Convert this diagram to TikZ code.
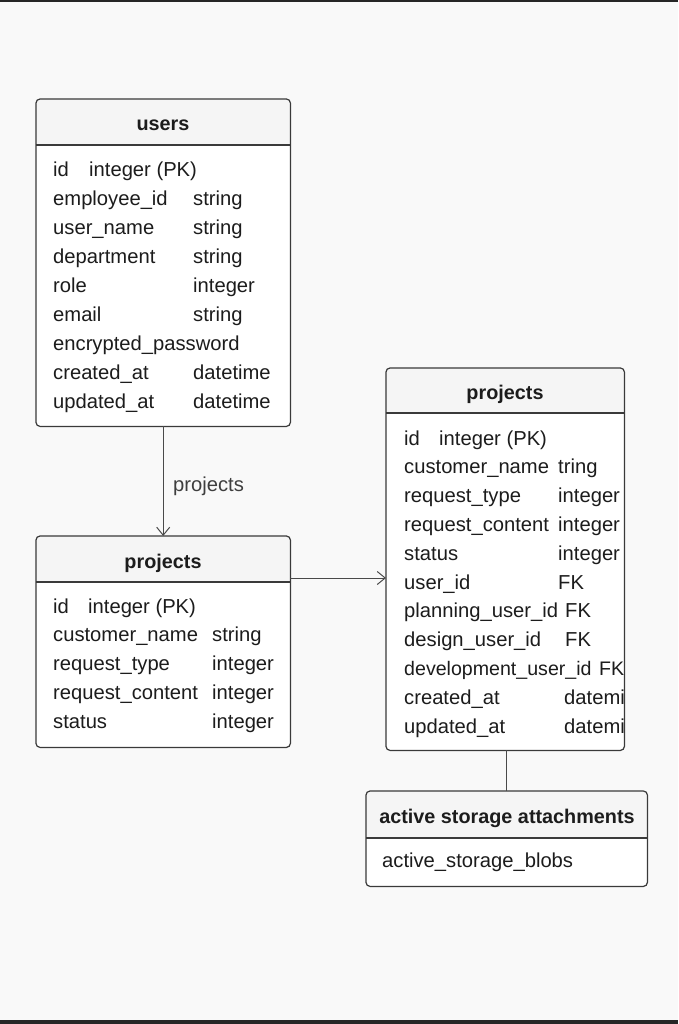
\documentclass[tikz,border=0pt]{standalone}
\usepackage{fontspec}
\setmainfont{Liberation Sans}
\usetikzlibrary{arrows.meta,calc}
\definecolor{bg}{HTML}{F9F9F9}
\definecolor{headc}{HTML}{F5F5F5}
\definecolor{linec}{HTML}{3A3A3A}
\definecolor{connc}{HTML}{4A4A4A}
\definecolor{textc}{HTML}{1C1C1C}
\definecolor{darkbar}{HTML}{262626}
\tikzset{
  tbl/.style={fill=white, rounded corners=4pt, inner sep=0pt, anchor=north west},
  border/.style={draw=linec, line width=1.2pt, rounded corners=4pt},
  divider/.style={draw=linec, line width=1.1pt},
  txt/.style={anchor=base west, inner sep=0pt, text=textc},
  ttl/.style={anchor=base, inner sep=0pt, text=textc, font=\fontsize{19.8}{23}\selectfont\bfseries},
  conn/.style={draw=connc, line width=1pt},
  arr/.style={conn, -{Straight Barb[length=8pt,width=13pt,line width=1pt]}}
}
\newcommand\mytable[6]{%
  \node[tbl, minimum width=#4pt, minimum height=#5pt] (#1) at (#2,#3) {};
  \begin{scope}
    \clip[rounded corners=4pt] (#1.north west) rectangle (#1.south east);
    \fill[headc] (#1.north west) rectangle ($(#1.north east)+(0,#6)$);
  \end{scope}
  \draw[divider] ($(#1.north west)+(0,#6)$) -- ($(#1.north east)+(0,#6)$);
  \draw[border] (#1.north west) rectangle (#1.south east);
}
\begin{document}
\begin{tikzpicture}[x=1pt,y=-1pt,font=\fontsize{20.2}{24}\selectfont]
\useasboundingbox (0,0) rectangle (678,1024);
\fill[bg] (0,0) rectangle (678,1024);
\fill[darkbar] (0,0) rectangle (678,1.6);
\fill[darkbar] (0,1020) rectangle (678,1024);

% users
\mytable{users}{36}{99}{254}{327}{46}
\node[ttl] (users-title) at (163,131) {users};
\foreach \n [count=\i] in {id,employee\_id,user\_name,department,role,email,encrypted\_password,created\_at,updated\_at}
  \node[txt] (users-n-\i) at (53,{177+(\i-1)*28.9}) {\n};
\node[txt] (users-t-1) at (89,177) {integer (PK)};
\foreach \t/\r in {string/2,string/3,string/4,integer/5,string/6,datetime/8,datetime/9}
  \node[txt] (users-t-\r) at (193,{177+(\r-1)*28.9}) {\t};

% left projects
\mytable{lproj}{36}{536}{254}{211}{46}
\node[ttl] (lproj-title) at (163,568) {projects};
\foreach \n [count=\i] in {id,customer\_name,request\_type,request\_content,status}
  \node[txt] (lproj-n-\i) at (53,{613+(\i-1)*28.8}) {\n};
\node[txt] (lproj-t-1) at (88,613) {integer (PK)};
\foreach \t/\r in {string/2,integer/3,integer/4,integer/5}
  \node[txt] (lproj-t-\r) at (212,{613+(\r-1)*28.8}) {\t};

% right projects
\mytable{rproj}{386}{368}{238}{382}{45}
\node[ttl] (rproj-title) at (505,399) {projects};
\foreach \n [count=\i] in {id,customer\_name,request\_type,request\_content,status,user\_id,planning\_user\_id,design\_user\_id}
  \node[txt] (rproj-n-\i) at (404,{445+(\i-1)*28.8}) {\n};
\node[txt, font=\fontsize{19.6}{24}\selectfont] (rproj-n-9) at (404,{445+8*28.8}) {development\_user\_id};
\foreach \n/\r in {created\_at/10,updated\_at/11}
  \node[txt] (rproj-n-\r) at (404,{445+(\r-1)*28.8}) {\n};
\node[txt] (rproj-t-1) at (439,445) {integer (PK)};
\foreach \t/\tx/\r in {tring/558/2,integer/558/3,integer/558/4,integer/558/5,FK/558/6,FK/565/7,FK/565/8,datemi/564/10,datemi/564/11}
  \node[txt] (rproj-t-\r) at (\tx,{445+(\r-1)*28.8}) {\t};
\node[txt, font=\fontsize{19.6}{24}\selectfont] (rproj-t-9) at (599,{445+8*28.8}) {FK};

% active storage
\mytable{active}{366}{791}{281}{95}{47}
\node[ttl] (active-title) at (507,823) {active storage attachments};
\node[txt] (active-n-1) at (382,867) {active\_storage\_blobs};

% connectors
\draw[arr] (users.south) -- (lproj.north);
\node[txt, text=textc!85] (rel-label) at (173,491) {projects};
\draw[arr] ($(lproj.north east)+(0,42)$) -- ($(rproj.north west)+(0,210)$);
\draw[conn] (active.north |- rproj.south) -- (active.north);
\end{tikzpicture}
\end{document}
